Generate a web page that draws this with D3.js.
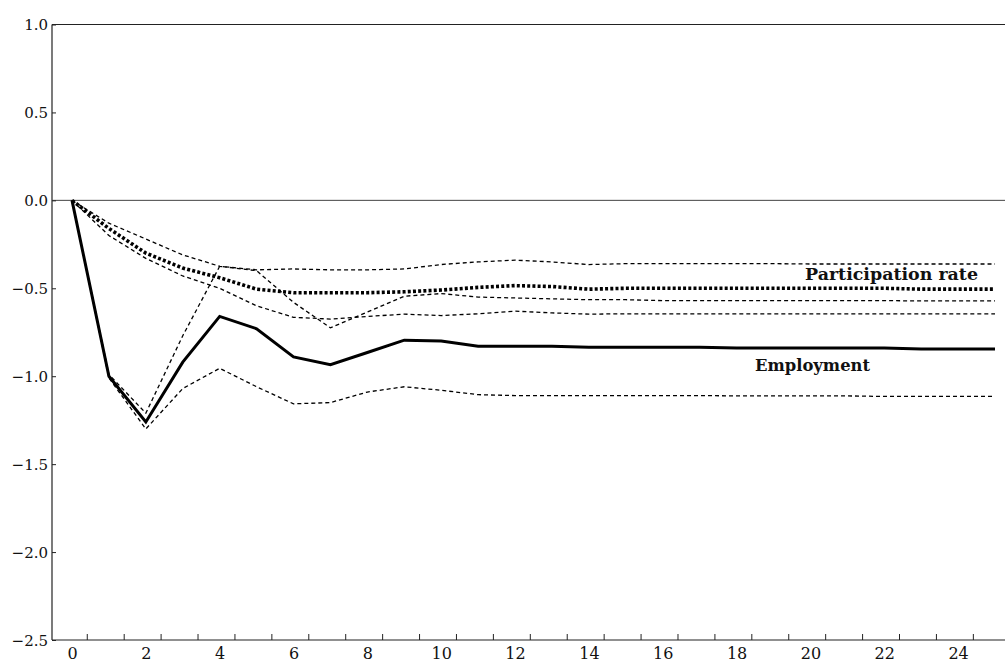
<!DOCTYPE html>
<html>
<head>
<meta charset="utf-8">
<script src="https://cdn.jsdelivr.net/npm/d3@7"></script>
<style>
  html, body { margin: 0; padding: 0; background: #fff; }
  svg { display: block; }
  .tick-label { font-family: "DejaVu Serif", serif; fill: #111; }
  .series-label { font-family: "DejaVu Serif", serif; font-weight: bold; fill: #111; }
</style>
</head>
<body>
<svg id="chart" width="1007" height="664"></svg>
<script>
// Horizon (periods after the shock)
const periods = d3.range(0, 26);

// Impulse responses
const employment = [0, -1.00, -1.26, -0.92, -0.66, -0.73, -0.89, -0.935, -0.865, -0.795, -0.80, -0.83, -0.83,
  -0.83, -0.835, -0.835, -0.835, -0.835, -0.84, -0.84, -0.84, -0.84, -0.84, -0.845, -0.845, -0.845];
const employmentUpper = [0, -0.99, -1.21, -0.77, -0.375, -0.40, -0.58, -0.725, -0.635, -0.545, -0.53, -0.55, -0.555,
  -0.56, -0.565, -0.565, -0.57, -0.57, -0.57, -0.57, -0.57, -0.57, -0.57, -0.572, -0.572, -0.572];
const employmentLower = [0, -1.01, -1.30, -1.07, -0.955, -1.06, -1.157, -1.15, -1.09, -1.06, -1.08, -1.105, -1.11,
  -1.11, -1.11, -1.11, -1.11, -1.11, -1.112, -1.112, -1.112, -1.112, -1.115, -1.115, -1.115, -1.115];

const participation = [0, -0.16, -0.30, -0.385, -0.44, -0.505, -0.525, -0.525, -0.525, -0.52, -0.51, -0.495, -0.485,
  -0.49, -0.505, -0.50, -0.50, -0.50, -0.50, -0.50, -0.50, -0.50, -0.50, -0.505, -0.505, -0.505];
const participationUpper = [0, -0.13, -0.22, -0.31, -0.375, -0.395, -0.39, -0.395, -0.395, -0.39, -0.365, -0.35, -0.34,
  -0.35, -0.365, -0.36, -0.36, -0.36, -0.36, -0.36, -0.362, -0.362, -0.362, -0.362, -0.362, -0.362];
const participationLower = [0, -0.20, -0.33, -0.43, -0.50, -0.60, -0.665, -0.675, -0.66, -0.647, -0.655, -0.645, -0.63,
  -0.64, -0.647, -0.645, -0.645, -0.645, -0.645, -0.645, -0.645, -0.645, -0.645, -0.645, -0.645, -0.645];

// Axis ticks
const yTicks = [1.0, 0.5, 0.0, -0.5, -1.0, -1.5, -2.0, -2.5];
const xLabels = d3.range(0, 25, 2);
const xTickMarks = d3.range(0, 25).map(i => i + 0.4);

const svg = d3.select("#chart");
const plotLeft = 52, plotRight = 1005, plotTop = 24.5, plotBottom = 640;

const x = d3.scaleLinear().domain([0, 25]).range([72, 995]);
const y = d3.scaleLinear().domain([-2.5, 1.0]).range([plotBottom, plotTop]);

// Frame: left axis, top rule, bottom axis, zero line
const frame = svg.append("g").attr("stroke", "#222").attr("fill", "none");
frame.append("line").attr("x1", plotLeft).attr("x2", plotLeft).attr("y1", plotTop).attr("y2", plotBottom).attr("stroke-width", 1.2);
frame.append("line").attr("x1", plotLeft).attr("x2", plotRight).attr("y1", y(1.0)).attr("y2", y(1.0)).attr("stroke-width", 1.1);
frame.append("line").attr("x1", plotLeft).attr("x2", plotRight).attr("y1", y(-2.5)).attr("y2", y(-2.5)).attr("stroke-width", 1.2);
frame.append("line").attr("x1", plotLeft).attr("x2", plotRight).attr("y1", y(0)).attr("y2", y(0)).attr("stroke-width", 1).attr("stroke", "#444");

// Y axis
const yAxis = d3.axisRight(y).tickValues(yTicks).tickSize(4).tickFormat(d3.format(".1f"));
const gy = svg.append("g").attr("transform", `translate(${plotLeft},0)`).call(yAxis);
gy.select(".domain").remove();
gy.selectAll(".tick line").attr("stroke", "#222");
gy.selectAll(".tick text")
  .attr("class", "tick-label")
  .attr("x", -4)
  .attr("text-anchor", "end")
  .attr("font-size", 15)
  .attr("dy", "0.36em");

// X axis: tick marks between periods, labels every other period
const xAxisMarks = d3.axisTop(x).tickValues(xTickMarks).tickSize(6).tickFormat("");
const gxm = svg.append("g").attr("transform", `translate(0,${plotBottom})`).call(xAxisMarks);
gxm.select(".domain").remove();
gxm.selectAll(".tick line").attr("stroke", "#222");

const xAxisLabels = d3.axisBottom(x).tickValues(xLabels).tickSize(0).tickFormat(d3.format("d"));
const gxl = svg.append("g").attr("transform", `translate(0,${plotBottom})`).call(xAxisLabels);
gxl.select(".domain").remove();
gxl.selectAll(".tick text")
  .attr("class", "tick-label")
  .attr("font-size", 16)
  .attr("y", 19)
  .attr("dy", 0);

// Series
const line = d3.line().x((d, i) => x(periods[i])).y(d => y(d));
const plot = svg.append("g").attr("fill", "none").attr("stroke", "#000");

const bands = [employmentUpper, employmentLower, participationUpper, participationLower];
bands.forEach(b => {
  plot.append("path").attr("d", line(b))
    .attr("stroke-width", 1.3)
    .attr("stroke-dasharray", "4,3");
});

plot.append("path").attr("d", line(participation))
  .attr("stroke-width", 3.6)
  .attr("stroke-dasharray", "3,2.2");

plot.append("path").attr("d", line(employment))
  .attr("stroke-width", 3)
  .attr("stroke-linejoin", "miter");

// Series labels
svg.append("text").attr("class", "series-label")
  .attr("x", 978).attr("y", 280).attr("text-anchor", "end")
  .attr("font-size", 17)
  .attr("textLength", 173).attr("lengthAdjust", "spacingAndGlyphs")
  .text("Participation rate");

svg.append("text").attr("class", "series-label")
  .attr("x", 755).attr("y", 370.5)
  .attr("font-size", 17)
  .attr("textLength", 115).attr("lengthAdjust", "spacingAndGlyphs")
  .text("Employment");
</script>
</body>
</html>
